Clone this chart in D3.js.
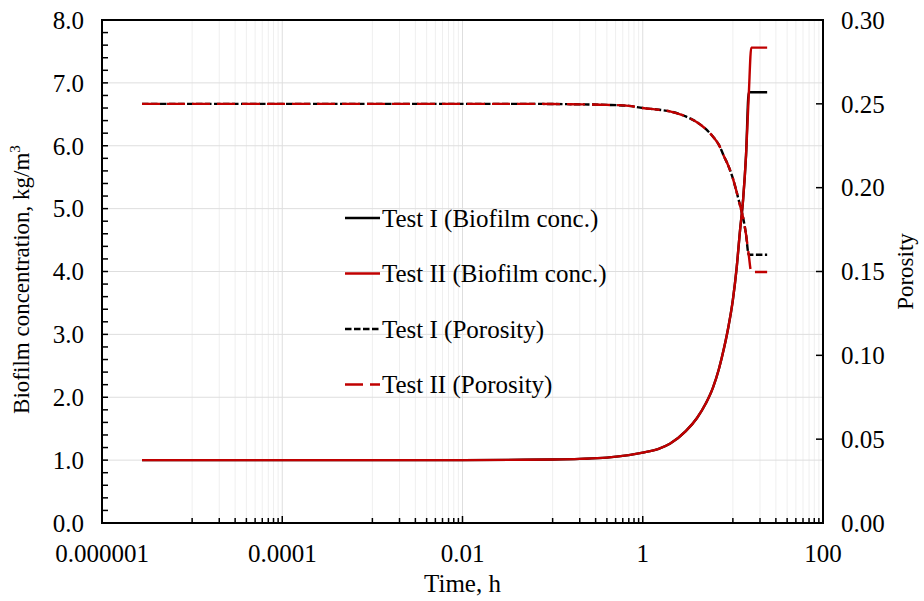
<!DOCTYPE html>
<html>
<head>
<meta charset="utf-8">
<script src="https://cdn.jsdelivr.net/npm/d3@7"></script>
<style>
  html, body { margin: 0; padding: 0; background: #fff; }
  svg text { font-family: "Liberation Serif", "Times New Roman", serif; fill: #000; }
</style>
</head>
<body>
<svg id="chart" width="924" height="601"></svg>
<script>
// Time points (h) and results for the two tests
const timeTest1 = [2.78e-6, 1e-5, 1e-4, 1e-3, 0.01, 0.05, 0.1, 0.2, 0.4, 0.7, 1, 1.5, 2, 3, 4, 5, 6, 7, 8, 9, 10, 11, 12, 13, 14, 15, 24];
const timeTest2 = [2.78e-6, 1e-5, 1e-4, 1e-3, 0.01, 0.05, 0.1, 0.2, 0.4, 0.7, 1, 1.5, 2, 3, 4, 5, 6, 7, 8, 9, 10, 11, 12, 13, 14, 15, 16, 24];

const biofilmTest1 = [1, 1, 1, 1, 1, 1.005, 1.01, 1.02, 1.04, 1.08, 1.12, 1.18, 1.26, 1.46, 1.67, 1.90, 2.15, 2.45, 2.79, 3.15, 3.55, 4.05, 4.65, 5.15, 5.85, 6.85, 6.85];
const biofilmTest2 = [1, 1, 1, 1, 1, 1.005, 1.01, 1.02, 1.04, 1.08, 1.12, 1.18, 1.26, 1.46, 1.67, 1.90, 2.15, 2.45, 2.79, 3.15, 3.55, 4.05, 4.65, 5.15, 5.85, 6.80, 7.56, 7.56];

const porosityTest1 = [0.25, 0.25, 0.25, 0.25, 0.25, 0.25, 0.2499, 0.2497, 0.2494, 0.2488, 0.2475, 0.2465, 0.2455, 0.2425, 0.2390, 0.2350, 0.2305, 0.2255, 0.2185, 0.2125, 0.2055, 0.1975, 0.1895, 0.1820, 0.1720, 0.1600, 0.1600];
const porosityTest2 = [0.25, 0.25, 0.25, 0.25, 0.25, 0.25, 0.2499, 0.2497, 0.2494, 0.2488, 0.2475, 0.2465, 0.2455, 0.2425, 0.2390, 0.2350, 0.2305, 0.2255, 0.2185, 0.2125, 0.2055, 0.1975, 0.1895, 0.1820, 0.1720, 0.1600, 0.1497, 0.1497];

// Axis tick values and labels
const xMajorTicks = [1e-6, 1e-4, 1e-2, 1, 100];
const xTickLabels = ["0.000001", "0.0001", "0.01", "1", "100"];
const yLeftTicks = [0, 1, 2, 3, 4, 5, 6, 7, 8];
const yRightTicks = [0, 0.05, 0.10, 0.15, 0.20, 0.25, 0.30];

const legendLabels = ["Test I (Biofilm conc.)", "Test II (Biofilm conc.)", "Test I (Porosity)", "Test II (Porosity)"];

const svg = d3.select("#chart");
const plot = { left: 102, right: 823, top: 20, bottom: 523 };
const FS = 25;

const x = d3.scaleLog().domain([1e-6, 100]).range([plot.left, plot.right]);
const yL = d3.scaleLinear().domain([0, 8]).range([plot.bottom, plot.top]);
const yR = d3.scaleLinear().domain([0, 0.3]).range([plot.bottom, plot.top]);

// minor positions: 10..90 times each major value (log base-100 style)
const xMinorTicks = [];
xMajorTicks.slice(0, -1).forEach(m => {
  for (let k = 1; k <= 9; k++) xMinorTicks.push(m * 10 * k);
});
const yMinorTicks = d3.range(0, 8.0001, 0.2);

const red = "#C00000";
const grid = svg.append("g");

// vertical gridlines
grid.selectAll("line.vmin").data(xMinorTicks).join("line")
  .attr("x1", d => x(d)).attr("x2", d => x(d))
  .attr("y1", plot.top).attr("y2", plot.bottom)
  .attr("stroke", "#efefef").attr("stroke-width", 1);
grid.selectAll("line.vmaj").data(xMajorTicks).join("line")
  .attr("x1", d => x(d)).attr("x2", d => x(d))
  .attr("y1", plot.top).attr("y2", plot.bottom)
  .attr("stroke", "#dedede").attr("stroke-width", 1);
// horizontal gridlines
grid.selectAll("line.h").data(yLeftTicks).join("line")
  .attr("x1", plot.left).attr("x2", plot.right)
  .attr("y1", d => yL(d)).attr("y2", d => yL(d))
  .attr("stroke", "#dedede").attr("stroke-width", 1);

// data lines
const lineL = (t, v) => d3.line().curve(d3.curveMonotoneX).x((d, i) => x(t[i])).y(d => yL(d))(v);
const lineR = (t, v) => d3.line().curve(d3.curveMonotoneX).x((d, i) => x(t[i])).y(d => yR(d))(v);
const series = svg.append("g").attr("fill", "none").attr("stroke-width", 2.4);

series.append("path").attr("d", lineL(timeTest1, biofilmTest1)).attr("stroke", "#000");
series.append("path").attr("d", lineL(timeTest2, biofilmTest2)).attr("stroke", red);
series.append("path").attr("d", lineR(timeTest1, porosityTest1)).attr("stroke", "#000")
  .attr("stroke-dasharray", "6.5,2.5");
series.append("path").attr("d", lineR(timeTest2, porosityTest2)).attr("stroke", red)
  .attr("stroke-dasharray", "18,7");

// frame
svg.append("rect")
  .attr("x", plot.left).attr("y", plot.top)
  .attr("width", plot.right - plot.left).attr("height", plot.bottom - plot.top)
  .attr("fill", "none").attr("stroke", "#000").attr("stroke-width", 2);

// axes (ticks pointing into the plot)
const axX = svg.append("g").attr("transform", `translate(0,${plot.bottom})`);
axX.selectAll("line.min").data(xMinorTicks).join("line")
  .attr("x1", d => x(d)).attr("x2", d => x(d)).attr("y1", 0).attr("y2", -5)
  .attr("stroke", "#000").attr("stroke-width", 1.5);
axX.selectAll("line.maj").data(xMajorTicks).join("line")
  .attr("x1", d => x(d)).attr("x2", d => x(d)).attr("y1", 0).attr("y2", -7)
  .attr("stroke", "#000").attr("stroke-width", 1.5);
axX.selectAll("text").data(xMajorTicks).join("text")
  .attr("x", d => x(d)).attr("y", 39).attr("text-anchor", "middle")
  .attr("font-size", FS).text((d, i) => xTickLabels[i]);

const axL = svg.append("g").attr("transform", `translate(${plot.left},0)`);
axL.selectAll("line").data(yMinorTicks).join("line")
  .attr("x1", 0).attr("x2", 6).attr("y1", d => yL(d)).attr("y2", d => yL(d))
  .attr("stroke", "#000").attr("stroke-width", 1.5);
axL.selectAll("text").data(yLeftTicks).join("text")
  .attr("x", -18).attr("y", d => yL(d)).attr("dy", "0.35em").attr("text-anchor", "end")
  .attr("font-size", FS).text(d => d3.format(".1f")(d));

const axR = svg.append("g").attr("transform", `translate(${plot.right},0)`);
axR.selectAll("line").data(yRightTicks).join("line")
  .attr("x1", 0).attr("x2", -7).attr("y1", d => yR(d)).attr("y2", d => yR(d))
  .attr("stroke", "#000").attr("stroke-width", 1.5);
axR.selectAll("text").data(yRightTicks).join("text")
  .attr("x", 18).attr("y", d => yR(d)).attr("dy", "0.35em").attr("text-anchor", "start")
  .attr("font-size", FS).text(d => d3.format(".2f")(d));

// axis titles
svg.append("text").attr("x", (plot.left + plot.right) / 2).attr("y", 592)
  .attr("text-anchor", "middle").attr("font-size", FS).text("Time, h");

const yTitle = svg.append("text")
  .attr("transform", `translate(29,${(plot.top + plot.bottom) / 2 + 8}) rotate(-90)`)
  .attr("text-anchor", "middle").attr("font-size", 23);
yTitle.append("tspan").text("Biofilm concentration, kg/m");
yTitle.append("tspan").attr("font-size", 15).attr("dy", -9).text("3");

svg.append("text")
  .attr("transform", `translate(913,${(plot.top + plot.bottom) / 2}) rotate(-90)`)
  .attr("text-anchor", "middle").attr("font-size", 23).text("Porosity");

// legend
const legend = svg.append("g").attr("transform", "translate(345,218)");
const legendStyles = [
  { stroke: "#000", dash: null },
  { stroke: red, dash: null },
  { stroke: "#000", dash: "6.5,2.5" },
  { stroke: red, dash: "18,7" }
];
legendLabels.forEach((lab, i) => {
  const g = legend.append("g").attr("transform", `translate(0,${i * 55.5})`);
  g.append("line").attr("x1", 0).attr("x2", 35).attr("y1", 0).attr("y2", 0)
    .attr("stroke", legendStyles[i].stroke).attr("stroke-width", 2.4)
    .attr("stroke-dasharray", legendStyles[i].dash);
  g.append("text").attr("x", 37).attr("y", 0).attr("dy", "0.35em")
    .attr("font-size", FS).text(lab);
});
</script>
</body>
</html>
